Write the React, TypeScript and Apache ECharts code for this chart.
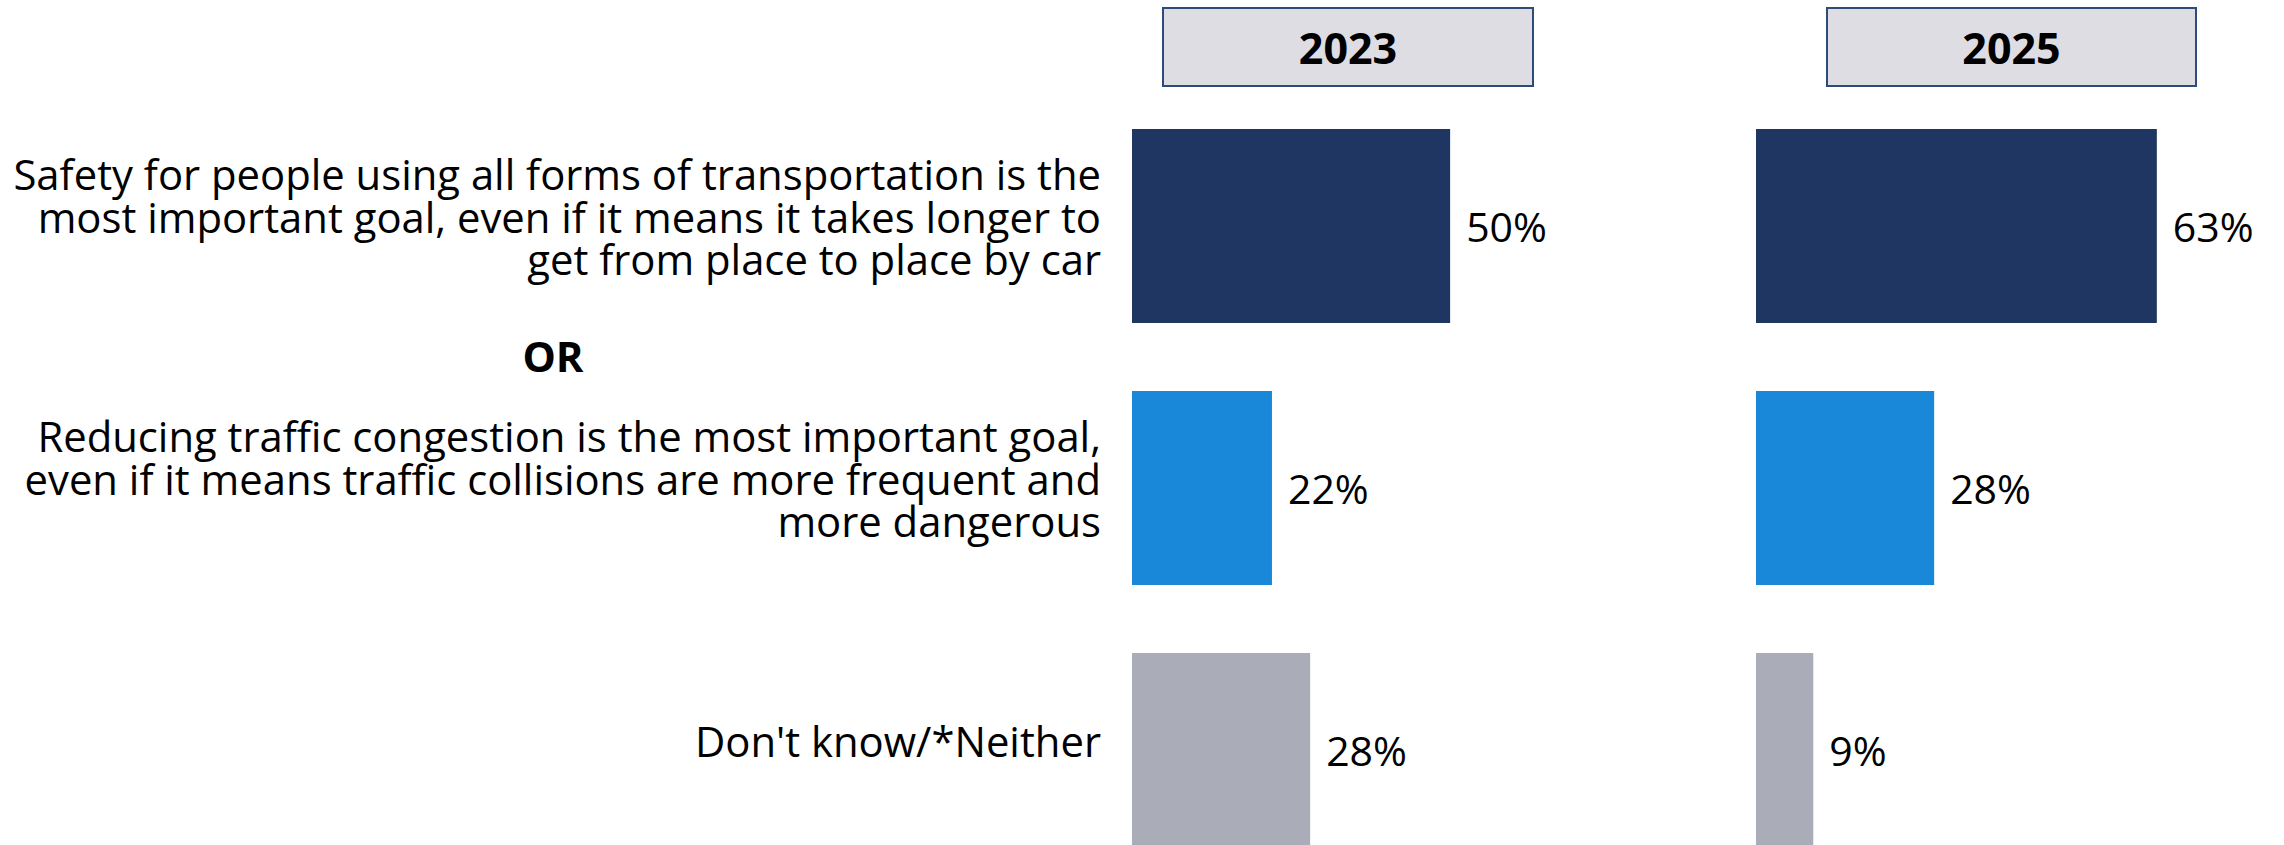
import React, { useEffect, useRef } from "react";
import * as echarts from "echarts";

const categories = [
  "Safety for people using all forms of transportation is the\nmost important goal, even if it means it takes longer to\nget from place to place by car",
  "Reducing traffic congestion is the most important goal,\neven if it means traffic collisions are more frequent and\nmore dangerous",
  "Don't know/*Neither",
];
const years = ["2023", "2025"];
const values2023 = [50, 22, 28];
const values2025 = [63, 28, 9];
const barColors = ["#1E3661", "#1988D8", "#AAACB8"];
const separatorText = "OR";

const FONT = "'Open Sans', 'Noto Sans', sans-serif";

export default function App() {
  const ref = useRef<HTMLDivElement>(null);
  useEffect(() => {
    if (!ref.current) return;
    const chart = echarts.init(ref.current, null, { renderer: "svg" });
    const makeData = (vals: number[]) =>
      vals.map((v, i) => ({ value: v, itemStyle: { color: barColors[i] } }));
    const gridTop = 95;
    const labelTop = 85;
    const gridHeight = 786;
    const gridWidth = 509;
    const lefts = [1132, 1756];
    const boxes = [
      { x: 1163, w: 370 },
      { x: 1827, w: 369 },
    ];
    const label = {
      show: true,
      position: "right" as const,
      distance: 16,
      formatter: "{c}%",
      color: "#000",
      fontFamily: FONT,
      fontSize: 41,
    };
    const gridDefs = [
      { left: lefts[0], top: gridTop },
      { left: lefts[1], top: gridTop },
      { left: lefts[0], top: labelTop },
    ];
    chart.setOption({
      animation: false,
      backgroundColor: "#ffffff",
      grid: gridDefs.map((g) => ({
        left: g.left,
        top: g.top,
        width: gridWidth,
        height: gridHeight,
        containLabel: false,
        outerBoundsMode: "none",
      })),
      xAxis: gridDefs.map((_, i) => ({
        type: "value",
        gridIndex: i,
        min: 0,
        max: 80,
        show: false,
      })),
      yAxis: gridDefs.map((_, i) => ({
        type: "category",
        gridIndex: i,
        data: categories,
        inverse: true,
        axisLine: { show: false },
        axisTick: { show: false },
        splitLine: { show: false },
        axisLabel:
          i === 2
            ? {
                show: true,
                align: "right",
                margin: 31,
                color: "#000",
                fontFamily: FONT,
                fontSize: 41.8,
                lineHeight: 42.5,
              }
            : { show: false },
      })),
      series: [values2023, values2025].map((vals, i) => ({
        type: "bar",
        name: years[i],
        xAxisIndex: i,
        yAxisIndex: i,
        data: makeData(vals),
        barCategoryGap: "26%",
        label,
      })),
      graphic: [
        ...boxes.map((b, i) => ({
          type: "group",
          children: [
            {
              type: "rect",
              shape: { x: b.x, y: 8, width: b.w, height: 78 },
              style: { fill: "#DEDDE4", stroke: "#2F4B7C", lineWidth: 2 },
            },
            {
              type: "text",
              x: b.x + b.w / 2,
              y: 47,
              style: {
                text: years[i],
                fill: "#000",
                font: `bold 43px ${FONT}`,
                align: "center",
                verticalAlign: "middle",
              },
            },
          ],
        })),
        {
          type: "text",
          x: 553,
          y: 355,
          style: {
            text: separatorText,
            fill: "#000",
            font: `bold 42px ${FONT}`,
            align: "center",
            verticalAlign: "middle",
          },
        },
      ],
    });
    return () => chart.dispose();
  }, []);
  return (
    <div
      ref={ref}
      style={{ position: "absolute", left: 0, top: 0, width: 2284, height: 845 }}
    />
  );
}
